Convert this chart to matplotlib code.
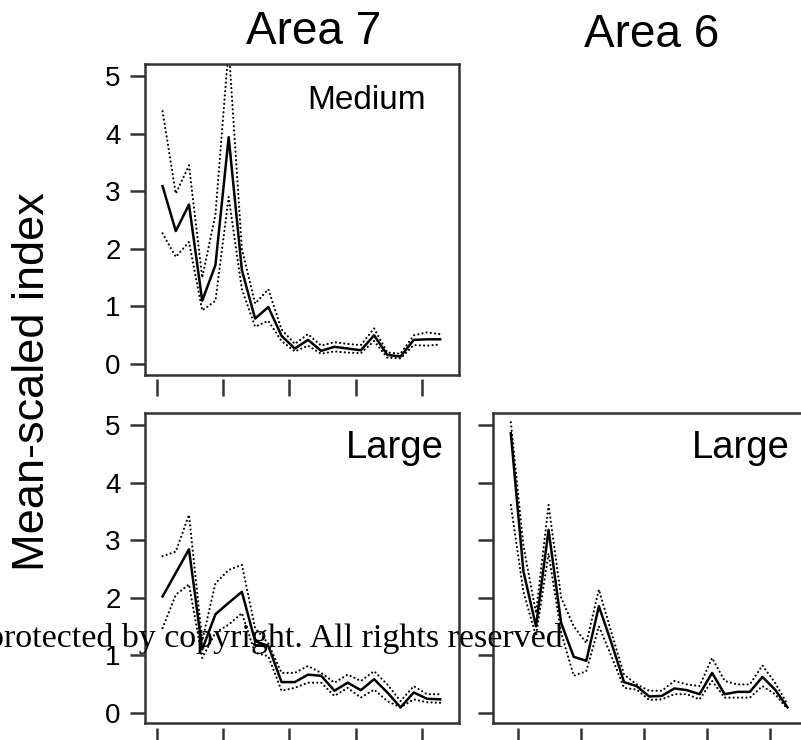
import numpy as np
import matplotlib.pyplot as plt

plt.rcParams['font.family'] = ['Liberation Sans', 'DejaVu Sans']

# survey years (index points sit 0.4 yr right of the year tick)
years_a7 = np.arange(1990, 2012)
years_a6 = np.arange(1989, 2012)
year_ticks = [1990, 1995, 2000, 2005, 2010]
x_offset = 0.4

# Area 7 - Medium
med7_mid = [3.09, 2.31, 2.77, 1.10, 1.72, 3.94, 1.63, 0.79, 0.99, 0.49, 0.27,
            0.42, 0.23, 0.30, 0.27, 0.24, 0.50, 0.16, 0.13, 0.42, 0.43, 0.43]
med7_hi = [4.39, 2.96, 3.45, 1.50, 2.60, 5.50, 2.00, 1.05, 1.30, 0.60, 0.35,
           0.52, 0.32, 0.38, 0.35, 0.33, 0.62, 0.20, 0.18, 0.50, 0.55, 0.52]
med7_lo = [2.27, 1.86, 2.12, 0.93, 1.10, 2.90, 1.30, 0.65, 0.75, 0.40, 0.22,
           0.32, 0.18, 0.22, 0.20, 0.19, 0.40, 0.11, 0.10, 0.33, 0.32, 0.34]

# Area 7 - Large
lrg7_mid = [2.02, 2.43, 2.84, 1.10, 1.71, 1.91, 2.10, 1.24, 1.16, 0.53, 0.53,
            0.66, 0.64, 0.38, 0.52, 0.39, 0.58, 0.35, 0.09, 0.35, 0.24, 0.23]
lrg7_hi = [2.72, 2.80, 3.44, 1.25, 2.25, 2.48, 2.57, 1.47, 1.20, 0.69, 0.69,
           0.81, 0.69, 0.52, 0.66, 0.55, 0.72, 0.49, 0.20, 0.46, 0.32, 0.32]
lrg7_lo = [1.47, 2.05, 2.23, 0.95, 1.39, 1.53, 1.73, 1.04, 0.98, 0.38, 0.43,
           0.52, 0.52, 0.29, 0.43, 0.26, 0.40, 0.20, 0.09, 0.23, 0.18, 0.17]

# Area 6 - Large
lrg6_mid = [4.86, 2.46, 1.50, 3.18, 1.56, 0.97, 0.90, 1.85, 1.21, 0.53, 0.46,
            0.28, 0.29, 0.42, 0.39, 0.32, 0.69, 0.32, 0.36, 0.36, 0.62, 0.40, 0.09]
lrg6_hi = [5.05, 2.90, 1.73, 3.61, 2.00, 1.50, 1.21, 2.14, 1.39, 0.66, 0.49,
           0.38, 0.38, 0.55, 0.49, 0.46, 0.95, 0.55, 0.49, 0.49, 0.82, 0.52, 0.14]
lrg6_lo = [3.61, 2.10, 1.33, 2.77, 1.39, 0.64, 0.72, 1.50, 0.98, 0.43, 0.40,
           0.22, 0.23, 0.32, 0.32, 0.23, 0.55, 0.26, 0.26, 0.26, 0.46, 0.32, 0.06]

edge = '#333333'
dotted = (0, (0.01, 1.9))


def draw_panel(ax, years, mid, hi, lo, xlim, label, label_size, label_x, ylabels):
    x = years + x_offset
    ax.plot(x, mid, color='black', lw=1.8)
    for band in (hi, lo):
        ax.plot(x, band, color='black', lw=1.6, linestyle=dotted,
                dash_capstyle='round')
    ax.set_xlim(xlim)
    ax.set_ylim(-0.19, 5.21)
    ax.set_xticks(year_ticks)
    ax.set_xticklabels([])
    ax.set_yticks(range(6))
    if not ylabels:
        ax.set_yticklabels([])
    ax.tick_params(axis='y', direction='out', length=11, width=1.8,
                   color=edge, pad=6.5, labelsize=20)
    ax.tick_params(axis='x', direction='out', length=12, width=1.8, color=edge)
    for s in ax.spines.values():
        s.set_linewidth(1.8)
        s.set_color(edge)
    # x ticks sit slightly below the box
    ax.spines['bottom'].set_position(('outward', 3))
    ax.spines['bottom'].set_color('none')
    ax.plot([0, 1], [0, 0], transform=ax.transAxes, color=edge, lw=1.8,
            clip_on=False, solid_capstyle='projecting')
    ax.text(label_x, 0.855, label, transform=ax.transAxes, ha='right',
            va='baseline', fontsize=label_size)


fig = plt.figure(figsize=(8.01, 7.40), dpi=100)

ax1 = fig.add_axes([0.1810, 0.4932, 0.3920, 0.4203])
draw_panel(ax1, years_a7, med7_mid, med7_hi, med7_lo, (1989.07, 2012.82),
           'Medium', 24, 0.895, True)

ax2 = fig.add_axes([0.1810, 0.0223, 0.3920, 0.4195])
draw_panel(ax2, years_a7, lrg7_mid, lrg7_hi, lrg7_lo, (1989.07, 2012.82),
           'Large', 27.5, 0.953, True)

ax3 = fig.add_axes([0.6159, 0.0223, 0.3920, 0.4195])
draw_panel(ax3, years_a6, lrg6_mid, lrg6_hi, lrg6_lo, (1988.01, 2012.97),
           'Large', 27.5, 0.943, False)

fig.text(0.392, 1 - 44 / 740, 'Area 7', ha='center', va='baseline', fontsize=33)
fig.text(0.8134, 1 - 47 / 740, 'Area 6', ha='center', va='baseline', fontsize=33)
fig.text(0.040, 0.4845, 'Mean-scaled index', rotation=90, ha='center',
         va='center', fontsize=32.5)

fig.text(-13 / 801, 1 - 647 / 740, 'protected by copyright. All rights reserved',
         family='Liberation Serif', fontsize=24.5, ha='left', va='baseline')

plt.savefig('out.png', dpi=100)
